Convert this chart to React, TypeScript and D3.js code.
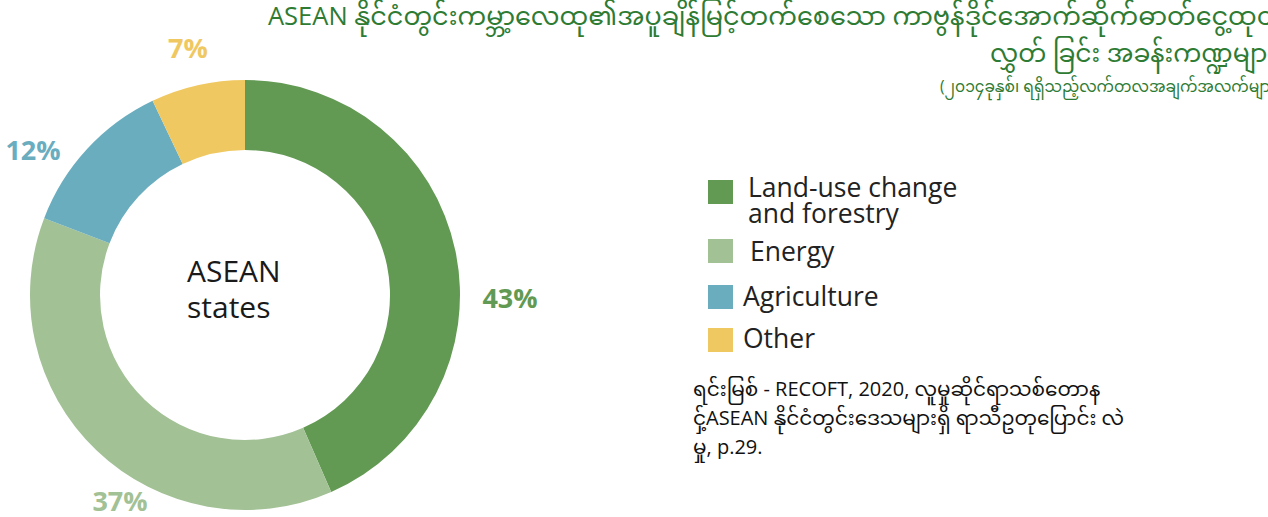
import React from "react";
import * as d3 from "d3";

const categories = ["Land-use change and forestry", "Energy", "Agriculture", "Other"];
const values = [43, 37, 12, 7];
const labels = ["43%", "37%", "12%", "7%"];
const colors = ["#629a53", "#a2c195", "#6aadbf", "#f0c862"];
const legendLines = [["Land-use change", "and forestry"], ["Energy"], ["Agriculture"], ["Other"]];
const titleLines = [
  "ASEAN နိုင်ငံတွင်းကမ္ဘာ့လေထု၏အပူချိန်မြင့်တက်စေသော ကာဗွန်ဒိုင်အောက်ဆိုက်ဓာတ်ငွေ့ထုတ်",
  "လွှတ် ခြင်း အခန်းကဏ္ဍများ",
];
const subtitle = "(၂၀၁၄ခုနှစ်၊ ရရှိသည့်လက်တလအချက်အလက်များ)";
const sourceLines = [
  "ရင်းမြစ် - RECOFT, 2020, လူမှုဆိုင်ရာသစ်တောန",
  "ငှ့်ASEAN နိုင်ငံတွင်းဒေသများရှိ ရာသီဥတုပြောင်း လဲ",
  "မှု, p.29.",
];
const centerLines = ["ASEAN", "states"];

const W = 1268;
const H = 517;
const cx = 245;
const cy = 295;
const rOuter = 215;
const rInner = 145;
const labelPos = [
  { x: 510, y: 308 },
  { x: 120, y: 511 },
  { x: 33, y: 160 },
  { x: 188, y: 58 },
];
const legendRows = [
  { sq: 180, tx: 748, ty: [197, 223] },
  { sq: 239, tx: 750, ty: [261] },
  { sq: 285, tx: 743, ty: [306] },
  { sq: 328, tx: 743, ty: [348] },
];
const font = "'Open Sans', 'Noto Sans', 'Noto Sans Myanmar', sans-serif";

export default function App() {
  const pie = d3.pie<number>().sort(null).value((d) => d);
  const arcs = pie(values);
  const arc = d3.arc<d3.PieArcDatum<number>>().innerRadius(rInner).outerRadius(rOuter);
  return (
    <svg
      width={W}
      height={H}
      style={{ position: "absolute", left: 0, top: 0, background: "#fff" }}
      fontFamily={font}
    >
      <g transform={`translate(${cx},${cy})`}>
        {arcs.map((a, i) => (
          <path key={categories[i]} d={arc(a) || ""} fill={colors[i]} />
        ))}
      </g>
      {labels.map((l, i) => (
        <text
          key={l}
          x={labelPos[i].x}
          y={labelPos[i].y}
          textAnchor="middle"
          fontSize={27}
          fontWeight={700}
          fill={colors[i]}
        >
          {l}
        </text>
      ))}
      {centerLines.map((t, i) => (
        <text key={t} x={187} y={282 + i * 36} fontSize={30} fill="#1a1a1a">
          {t}
        </text>
      ))}
      {legendRows.map((r, i) => (
        <g key={categories[i]}>
          <rect x={708} y={r.sq} width={25} height={24} fill={colors[i]} />
          {legendLines[i].map((t, j) => (
            <text key={t} x={r.tx} y={r.ty[j]} fontSize={26.5} fill="#222">
              {t}
            </text>
          ))}
        </g>
      ))}
      <text x={268} y={25} fontSize={25.5} fill="#2e7b33">
        {titleLines[0]}
      </text>
      <text x={990} y={62} fontSize={25} fill="#2e7b33">
        {titleLines[1]}
      </text>
      <text x={940} y={92} fontSize={15.5} fill="#2e7b33">
        {subtitle}
      </text>
      {sourceLines.map((t, i) => (
        <text key={i} x={693} y={396 + i * 29} fontSize={20} fill="#111">
          {t}
        </text>
      ))}
    </svg>
  );
}
